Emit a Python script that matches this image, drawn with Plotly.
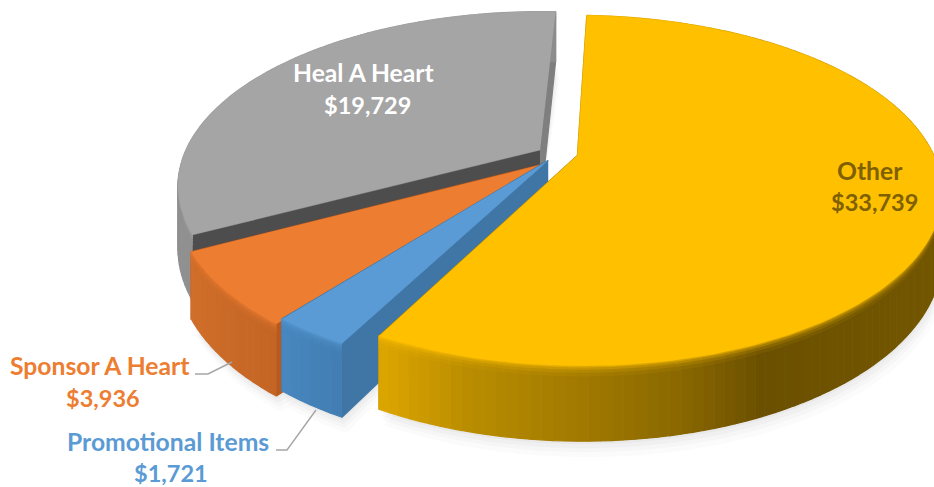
import numpy as np
import plotly.graph_objects as go

categories = ["Other", "Promotional Items", "Sponsor A Heart", "Heal A Heart"]
values = [33739, 1721, 3936, 19729]

W, H = 934, 487
START_DEG = 2.5
CX, CY = 556.0, 152.0
R, S, K, DEPTH = 355.0, 0.47, 0.2, 60.0
OFFSET = {"Other": (0.06, -0.02), "Promotional Items": (-0.022, -0.05), "Sponsor A Heart": (-0.032, -0.07), "Heal A Heart": (-0.045, 0.012)}
TOP = {"Other": "#FFC000", "Promotional Items": "#5B9BD5", "Sponsor A Heart": "#ED7D31", "Heal A Heart": "#A5A5A5"}
CUT = {"Other": "#B88A00", "Promotional Items": "#3F76A6", "Sponsor A Heart": "#B85A1E", "Heal A Heart": "#4D4D4D"}
CUT2 = {"Other": "#B88A00", "Promotional Items": "#3F76A6", "Sponsor A Heart": "#B85A1E", "Heal A Heart": "#7F7F7F"}
TEXT = {"Other": "#7F6000", "Promotional Items": "#5B9BD5", "Sponsor A Heart": "#ED7D31", "Heal A Heart": "#FFFFFF"}
LABEL_POS = {"Other": (870, 170, 874, 202), "Promotional Items": (168, 441, 171, 473),
             "Sponsor A Heart": (100, 365, 103, 398), "Heal A Heart": (364, 72, 367, 105)}
WALL_STOPS = {
    "Other": [(380, "#DDA600"), (470, "#B98C00"), (560, "#A67D00"), (680, "#8A6800"), (760, "#6B5000"), (934, "#735600")],
    "Promotional Items": [(280, "#4887BF"), (350, "#417CB0")],
    "Sponsor A Heart": [(190, "#D06E2A"), (285, "#C26424")],
    "Heal A Heart": [(170, "#909090"), (560, "#8C8C8C")],
}


def rgb(h):
    return np.array([int(h[i:i + 2], 16) for i in (1, 3, 5)], float)


def mix(a, b, t):
    c = rgb(a) * (1 - t) + rgb(b) * t
    return "#%02X%02X%02X" % tuple(int(round(x)) for x in c)


def wall_color(name, x):
    st = WALL_STOPS[name]
    xs = [p[0] for p in st]
    cs = np.array([rgb(p[1]) for p in st])
    c = [np.interp(x, xs, cs[:, i]) for i in range(3)]
    return "#%02X%02X%02X" % tuple(int(round(v)) for v in c)


def proj(u, v, z=0.0):
    w = 1 + K * v
    return CX + R * u / w, CY - R * S * v / w + z * DEPTH / w


fig = go.Figure()


def poly(xs, ys, color, opacity=1.0, width=1.2):
    fig.add_trace(go.Scatter(
        x=list(xs), y=list(ys), mode="lines", fill="toself", fillcolor=color, opacity=opacity,
        line=dict(color=color, width=width), hoverinfo="skip", showlegend=False))


# slice angles come straight from the values
total = sum(values)
slices = {}
a = START_DEG
for name, val in zip(categories, values):
    sweep = 360.0 * val / total
    a0, a1 = np.radians(a), np.radians(a + sweep)
    ou, ov = OFFSET[name]
    th = np.linspace(a0, a1, max(6, int(sweep / 1.5) + 1))
    slices[name] = (ou, ov, th)
    a += sweep

# soft shadow
for grow, op in ((16, 0.03), (11, 0.04), (7, 0.05), (3, 0.06)):
    for name in categories:
        ou, ov, th = slices[name]
        px, py = proj(ou + np.sin(th), ov + np.cos(th), 1.0)
        ax, ay = proj(ou, ov, 1.0)
        poly(np.r_[ax, px + grow * 0.3], np.r_[ay, py + grow], "#808080", opacity=op, width=0)

BANDS = [(0.0, 0.03, 0.35), (0.03, 0.06, 0.6), (0.06, 0.1, 0.8), (0.1, 0.15, 0.93), (0.15, 1.0, 1.0)]

for name in ["Heal A Heart", "Sponsor A Heart", "Promotional Items", "Other"]:
    ou, ov, th = slices[name]
    top = TOP[name]
    # cut faces
    for t, col in ((th[-1], CUT2[name]), (th[0], CUT[name])):
        p0 = proj(ou, ov)
        p1 = proj(ou + np.sin(t), ov + np.cos(t))
        p2 = proj(ou + np.sin(t), ov + np.cos(t), 1.0)
        p3 = proj(ou, ov, 1.0)
        poly([p0[0], p1[0], p2[0], p3[0]], [p0[1], p1[1], p2[1], p3[1]], col)
    # outer wall, split into bands for shading
    for z0, z1, tm in BANDS:
        for i in range(len(th) - 1):
            t0, t1 = th[i], th[i + 1]
            xm = proj(ou + np.sin((t0 + t1) / 2), ov + np.cos((t0 + t1) / 2))[0]
            col = mix(top, wall_color(name, xm), tm)
            a_ = proj(ou + np.sin(t0), ov + np.cos(t0), z0)
            b_ = proj(ou + np.sin(t1), ov + np.cos(t1), z0)
            c_ = proj(ou + np.sin(t1), ov + np.cos(t1), z1)
            d_ = proj(ou + np.sin(t0), ov + np.cos(t0), z1)
            poly([a_[0], b_[0], c_[0], d_[0]], [a_[1], b_[1], c_[1], d_[1]], col)
    # top face
    px, py = proj(ou + np.sin(th), ov + np.cos(th))
    ax, ay = proj(ou, ov)
    poly(np.r_[ax, px], np.r_[ay, py], top, width=0.5)

annotations = []
for name, val in zip(categories, values):
    x1, y1, x2, y2 = LABEL_POS[name]
    for x, y, txt, size in ((x1, y1, name, 24.7), (x2, y2, f"${val:,}", 23.5)):
        annotations.append(dict(x=x, y=y, text=f"<b>{txt}</b>", showarrow=False, xref="x", yref="y",
                                xanchor="center", yanchor="middle",
                                font=dict(family="Lato", size=size, color=TEXT[name])))

shapes = [
    dict(type="path", path="M 195 374 L 208 374 L 232 362", line=dict(color="#A6A6A6", width=1.4), xref="x", yref="y"),
    dict(type="path", path="M 276 450 L 287 450 L 316 410", line=dict(color="#A6A6A6", width=1.4), xref="x", yref="y"),
]

fig.update_layout(
    width=W, height=H, margin=dict(l=0, r=0, t=0, b=0), paper_bgcolor="white", plot_bgcolor="white",
    xaxis=dict(range=[0, W], visible=False, fixedrange=True),
    yaxis=dict(range=[H, 0], visible=False, fixedrange=True),
    showlegend=False, annotations=annotations, shapes=shapes)

fig.write_html("out.html", post_script="document.body.style.margin='0';", config={"displayModeBar": False})
